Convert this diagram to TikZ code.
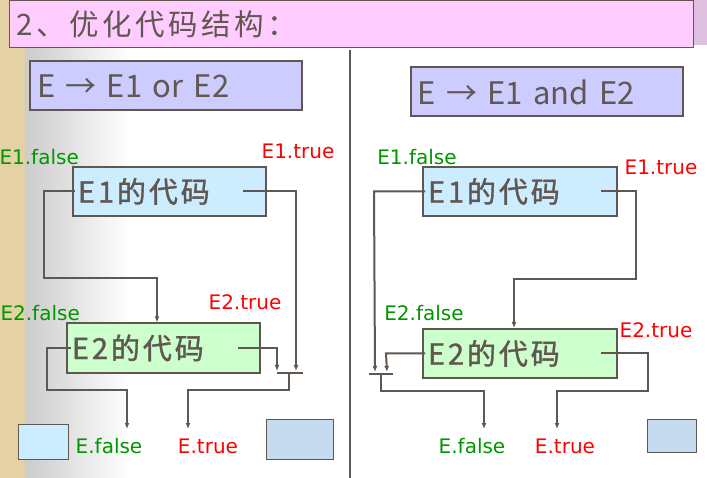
\documentclass[tikz,border=0pt]{standalone}
\usepackage{fontspec}
\setmainfont{DejaVu Sans}
\newfontfamily\cjk[LetterSpace=12]{Noto Sans CJK SC}
\newfontfamily\cjkcode[LetterSpace=10,FakeBold=1.2]{Noto Sans CJK SC}
\newfontfamily\cjkhead{Noto Sans CJK SC}
\usetikzlibrary{arrows.meta,positioning}

\definecolor{linegray}{RGB}{95,87,80}
\definecolor{parchment}{RGB}{228,210,165}
\definecolor{titlepink}{RGB}{255,204,255}
\definecolor{headfill}{RGB}{204,204,255}
\definecolor{eonefill}{RGB}{204,236,255}
\definecolor{etwofill}{RGB}{204,255,204}
\definecolor{sqblue}{RGB}{198,219,239}
\definecolor{falsegreen}{RGB}{0,150,0}
\definecolor{truered}{RGB}{255,0,0}

\begin{document}
\begin{tikzpicture}[x=1pt,y=-1pt]
        \tikzstyle{codeblock}=[rectangle, draw=linegray, line width=2pt, minimum height=49pt,
          inner xsep=5pt, text width=183pt, align=left, text=linegray,
          font=\cjkcode\fontsize{29}{34}\selectfont]
        \tikzstyle{headblock}=[rectangle, draw=linegray, line width=2pt, fill=headfill,
          minimum height=49pt, inner xsep=7pt, text width=258pt, align=left, text=linegray,
          font=\cjkhead\fontsize{31}{36}\selectfont]
        \tikzstyle{flow}=[draw=linegray, line width=2pt, -{Latex[length=6pt,width=5pt]}]
        \tikzstyle{bar}=[draw=linegray, line width=2pt]
        \tikzstyle{falselbl}=[text=falsegreen, font=\fontsize{20}{24}\selectfont, inner sep=0pt]
        \tikzstyle{truelbl}=[text=truered, font=\fontsize{20}{24}\selectfont, inner sep=0pt]
        \tikzstyle{square}=[rectangle, draw=linegray, line width=0.8pt, inner sep=0pt]
        \useasboundingbox (0,0) rectangle (707,478);
        % background
        \fill[white] (0,0) rectangle (707,478);
        \fill[parchment] (0,0) rectangle (25,478);
        \shade[left color=black!20, right color=white] (25,45) rectangle (130,478);
        \fill[violet!25] (692,0) rectangle (707,45);
        % title
        \node[rectangle, draw=linegray, line width=1pt, fill=titlepink, minimum height=47pt,
          inner xsep=7pt, text width=670pt, align=left, text=linegray,
          font=\cjk\fontsize{29.5}{34}\selectfont, anchor=north west] (title) at (9,0) {2、优化代码结构：};
        \draw[line width=2.6pt, linegray] (350,50) -- (350,478);
        % left: or
        \node[headblock] (orHead) at (166,86) {E → E1  or  E2};
        \node[codeblock, fill=eonefill, text width=183pt] (e1L) at (169.5,191.5) {E1的代码};
        \node[codeblock, fill=etwofill, text width=183pt] (e2L) at (163.5,348) {E2的代码};
        \node[falselbl, anchor=east] (e1fL) at (79,157) {E1.false};
        \node[truelbl] (e1tL) at (298,151) {E1.true};
        \node[truelbl] (e2tL) at (245,302) {E2.true};
        \node[falselbl, anchor=east] (e2fL) at (80,313) {E2.false};
        \node[falselbl] (efL) at (109,446) {E.false};
        \node[truelbl] (etL) at (208,446) {E.true};
        \node[square, fill=eonefill, minimum width=50pt, minimum height=35pt] (sqA) at (43,441.5) {};
        \node[square, fill=sqblue, minimum width=67pt, minimum height=40pt] (sqB) at (299.5,439) {};
        \coordinate (inL1) at (296,371);
        \coordinate (inL2) at (277,371);
        \coordinate (barLa) at (277,373);
        \coordinate (barLb) at (303,373);
        \coordinate (fL) at (127,429);
        \coordinate (tL) at (188,429);
        \draw[flow] ([xshift=3]e1L.west) -- ++(-31,0) |- (157,278) -- ([xshift=-6.5]e2L.north);
        \draw[flow] ([xshift=-24]e1L.east) -| (inL1);
        \draw[flow] ([xshift=-23]e2L.east) -| (inL2);
        \draw[bar] (barLa) -- (barLb);
        \draw[flow] (289,373) -- ++(0,17) -| (tL);
        \draw[flow] ([xshift=5]e2L.west) -- ++(-24,0) |- (127,390) -- (fL);
        % right: and
        \node[headblock] (andHead) at (546.5,92) {E → E1  and E2};
        \node[codeblock, fill=eonefill, text width=184pt] (e1R) at (520,191.5) {E1的代码};
        \node[codeblock, fill=etwofill, text width=184pt] (e2R) at (520,353.5) {E2的代码};
        \node[falselbl] (e1fR) at (417,157) {E1.false};
        \node[truelbl] (e1tR) at (661,167) {E1.true};
        \node[falselbl] (e2fR) at (424,313) {E2.false};
        \node[truelbl] (e2tR) at (656,330) {E2.true};
        \node[falselbl] (efR) at (472,446) {E.false};
        \node[truelbl] (etR) at (565,446) {E.true};
        \node[square, fill=sqblue, minimum width=49pt, minimum height=33pt] (sqC) at (672,435.5) {};
        \coordinate (inR1) at (375,372);
        \coordinate (inR2) at (387,372);
        \coordinate (barRa) at (369,374);
        \coordinate (barRb) at (393,374);
        \coordinate (fR) at (484,429);
        \coordinate (tR) at (557,429);
        \draw[flow] ([xshift=3]e1R.west) -- ++(-51,0) -- (inR1);
        \draw[flow] ([xshift=-17]e1R.east) -- ++(35,0) |- (514,279) -- ([xshift=-6]e2R.north);
        \draw[flow] ([xshift=3]e2R.west) -- ++(-39,0) -- (inR2);
        \draw[bar] (barRa) -- (barRb);
        \draw[flow] (381,374) -- ++(0,17) -| (fR);
        \draw[flow] ([xshift=-17]e2R.east) -- ++(47,0) |- (557,391) -- (tR);
      \end{tikzpicture}
\end{document}
